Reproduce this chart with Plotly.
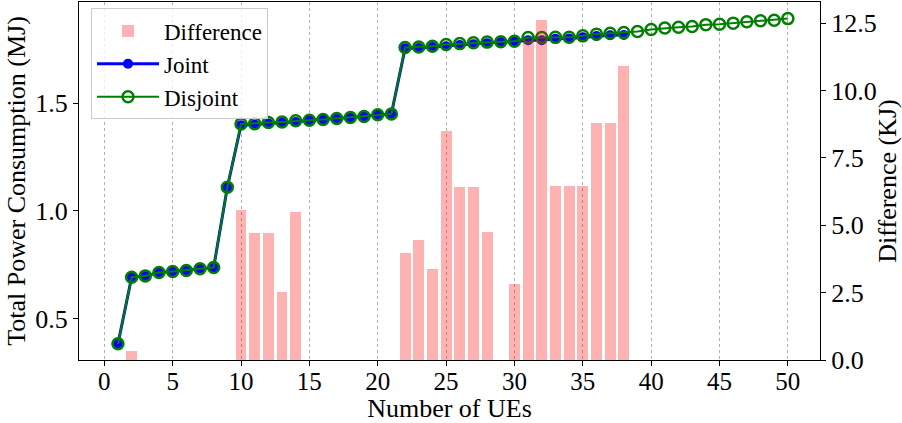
import plotly.graph_objects as go

ues = [1, 2, 3, 4, 5, 6, 7, 8, 9, 10, 11, 12, 13, 14, 15, 16, 17, 18, 19, 20,
       21, 22, 23, 24, 25, 26, 27, 28, 29, 30, 31, 32, 33, 34, 35, 36, 37, 38, 39, 40,
       41, 42, 43, 44, 45, 46, 47, 48, 49, 50]

disjoint_mj = [0.384, 0.693, 0.699, 0.715, 0.719, 0.724, 0.732, 0.738, 1.110, 1.403,
               1.405, 1.410, 1.413, 1.418, 1.421, 1.424, 1.429, 1.433, 1.438, 1.446,
               1.450, 1.758, 1.760, 1.764, 1.772, 1.776, 1.780, 1.783, 1.785, 1.787,
               1.804, 1.804, 1.805, 1.806, 1.812, 1.820, 1.824, 1.827, 1.832, 1.841,
               1.848, 1.852, 1.855, 1.864, 1.866, 1.871, 1.877, 1.882, 1.884, 1.892]

joint_ues = ues[:38]
joint_mj = [0.3840, 0.6927, 0.6990, 0.7150, 0.7190, 0.7240, 0.7320, 0.7380, 1.1100, 1.3974,
            1.4003, 1.4053, 1.4105, 1.4125, 1.4210, 1.4240, 1.4290, 1.4330, 1.4380, 1.4460,
            1.4500, 1.7540, 1.7555, 1.7606, 1.7635, 1.7696, 1.7736, 1.7782, 1.7850, 1.7842,
            1.7921, 1.7914, 1.7985, 1.7995, 1.8055, 1.8112, 1.8152, 1.8161]

difference_kj = [0, 0.33, 0, 0, 0, 0, 0, 0, 0, 5.57,
                 4.72, 4.72, 2.53, 5.50, 0, 0, 0, 0, 0, 0,
                 0, 3.97, 4.46, 3.38, 8.50, 6.42, 6.42, 4.75, 0, 2.82,
                 11.90, 12.62, 6.46, 6.46, 6.46, 8.80, 8.80, 10.92]

x_ticks = [0, 5, 10, 15, 20, 25, 30, 35, 40, 45, 50]
y_ticks = [0.5, 1.0, 1.5]
y2_ticks = [0.0, 2.5, 5.0, 7.5, 10.0, 12.5]

FONT = "Liberation Serif, Times New Roman, serif"

fig = go.Figure()

fig.add_trace(go.Bar(
    x=joint_ues, y=difference_kj, name="Difference", yaxis="y2",
    width=0.8, marker=dict(color="rgba(255,0,0,0.3)", line=dict(width=0)),
))
fig.add_trace(go.Scatter(
    x=joint_ues, y=joint_mj, name="Joint", mode="lines+markers",
    line=dict(color="blue", width=3),
    marker=dict(symbol="circle", size=10, color="blue", line=dict(color="blue", width=0)),
))
fig.add_trace(go.Scatter(
    x=ues, y=disjoint_mj, name="Disjoint", mode="lines+markers",
    line=dict(color="green", width=2),
    marker=dict(symbol="circle-open", size=11, color="green", line=dict(color="green", width=2.5)),
))

fig.update_layout(
    width=902, height=423,
    margin=dict(l=79, r=82, t=2, b=63),
    paper_bgcolor="white", plot_bgcolor="white",
    font=dict(family=FONT, size=26, color="black"),
    showlegend=True,
    bargap=0,
    legend=dict(
        x=0.0162, y=0.982, xanchor="left", yanchor="top",
        bgcolor="rgba(255,255,255,0.8)", bordercolor="#cccccc", borderwidth=1,
        font=dict(family=FONT, size=23, color="black"),
        traceorder="normal", itemwidth=62,
    ),
    xaxis=dict(
        range=[-1.85, 52.35], tickvals=x_ticks, ticks="outside", ticklen=5, tickwidth=1,
        tickcolor="black", showline=True, linecolor="black", linewidth=1.2, mirror=True,
        showgrid=True, gridcolor="#b0b0b0", griddash="dot", gridwidth=1,
        zeroline=False, tickfont=dict(size=25), ticklabelstandoff=-6,
        title=dict(text="Number of UEs", font=dict(size=26), standoff=0),
    ),
    yaxis=dict(
        range=[0.309, 1.969], tickvals=y_ticks, tickformat=".1f", ticks="outside",
        ticklen=5, tickwidth=1, tickcolor="black", showline=True, linecolor="black",
        linewidth=1.2, mirror=True, showgrid=False, zeroline=False, tickfont=dict(size=26),
        title=dict(text="Total Power Consumption (MJ)", font=dict(size=26), standoff=2),
    ),
    yaxis2=dict(
        range=[0, 13.29], tickvals=y2_ticks, tickformat=".1f", overlaying="y", side="right",
        ticks="outside", ticklen=5, tickwidth=1, tickcolor="black", showline=True,
        linecolor="black", linewidth=1.2, showgrid=False, zeroline=False,
        tickfont=dict(size=26),
        title=dict(text="Difference (KJ)", font=dict(size=26), standoff=6),
    ),
)

fig.write_html("out.html")
